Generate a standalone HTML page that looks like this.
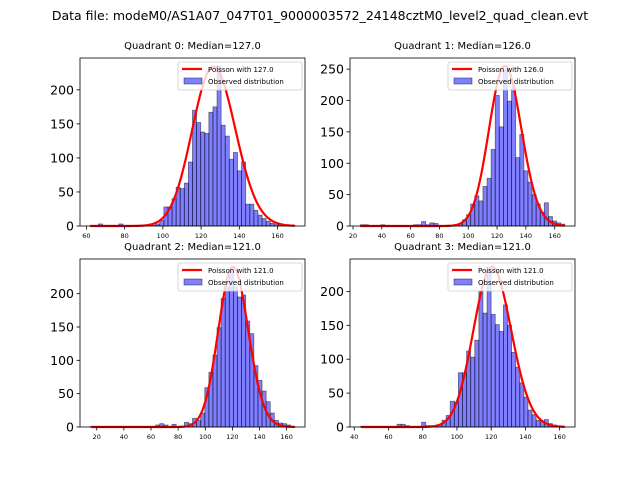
<!DOCTYPE html>
<html><head><meta charset="utf-8"><style>
body{margin:0;background:#fff}
svg{display:block;font-family:"DejaVu Sans","Liberation Sans",sans-serif}
</style></head><body>
<svg id="fig" width="640" height="480" viewBox="0 0 640 480" xmlns="http://www.w3.org/2000/svg">
<rect width="640" height="480" fill="#fff"/>
<text x="320" y="20" font-size="12.5" text-anchor="middle">Data file: modeM0/AS1A07_047T01_9000003572_24148cztM0_level2_quad_clean.evt</text>
</svg>
<script>
// ---- data ----
const titles = ["Quadrant 0: Median=127.0","Quadrant 1: Median=126.0","Quadrant 2: Median=121.0","Quadrant 3: Median=121.0"];
const lambdas = [127, 126, 121, 121];
const poissonPeaks = [234, 255, 240, 236];
const dataMins = [62, 25, 15.2, 43.5];
const dataMaxs = [169, 167, 166, 163];
const counts0 = [1,1,3,1,1,1,1,3,1,1,1,1,1,1,1,1,3,8,28,28,40,57,55,63,94,170,152,138,136,167,175,235,148,132,98,108,81,94,32,32,23,16,11,7,4,2,2,1,1,1];
const counts1 = [2,2,1,1,1,2,1,1,1,1,1,1,1,2,2,7,2,5,4,1,1,1,1,2,3,10,18,35,48,40,63,76,122,208,158,249,199,220,109,146,88,70,50,35,22,37,15,8,5,3];
const counts2 = [1,1,1,1,1,1,1,1,1,1,1,1,1,1,1,1,3,5,3,1,4,1,1,7,5,13,10,21,59,82,108,149,193,210,236,210,195,198,159,140,92,70,54,38,21,10,6,5,3,1];
const counts3 = [1,1,1,1,1,1,1,1,1,4,4,2,1,1,1,7,2,2,2,3,10,17,38,37,80,80,112,103,128,201,168,231,166,151,141,180,150,110,88,65,44,25,18,10,9,11,5,3,1,1];
const xTicks0 = [60,80,100,120,140,160];
const xTicks1 = [20,40,60,80,100,120,140,160];
const xTicks2 = [20,40,60,80,100,120,140,160];
const xTicks3 = [40,60,80,100,120,140,160];
const yTicks0 = [0,50,100,150,200];
const yTicks1 = [0,50,100,150,200,250];
const yTicks2 = [0,50,100,150,200];
const yTicks3 = [0,50,100,150,200];
const legendLabels = ["Poisson with 127.0","Poisson with 126.0","Poisson with 121.0","Poisson with 121.0"];

const allCounts=[counts0,counts1,counts2,counts3];
const allXT=[xTicks0,xTicks1,xTicks2,xTicks3];
const allYT=[yTicks0,yTicks1,yTicks2,yTicks3];
const boxes=[[80,58,305,226],[350,58,575,226],[80,259,305,427],[350,259,575,427]];
const NS="http://www.w3.org/2000/svg";
const svg=document.getElementById('fig');
function mk(tag,attrs,parent){const e=document.createElementNS(NS,tag);for(const k in attrs)e.setAttribute(k,attrs[k]);(parent||svg).appendChild(e);return e;}
function lgam(z){const c=[76.18009172947146,-86.50532032941677,24.01409824083091,-1.231739572450155,0.1208650973866179e-2,-0.5395239384953e-5];let x=z,y=z,t=x+5.5;t-=(x+0.5)*Math.log(t);let s=1.000000000190015;for(let j=0;j<6;j++)s+=c[j]/++y;return -t+Math.log(2.5066282746310005*s/x);}
function lpois(k,l){return k*Math.log(l)-l-lgam(k+1);}

for(let p=0;p<4;p++){
  const [L,T,R,B]=boxes[p];
  const cnt=allCounts[p],mn=dataMins[p],mx=dataMaxs[p],lam=lambdas[p],pk=poissonPeaks[p];
  const span=mx-mn,x0=mn-0.05*span,x1=mx+0.05*span;
  const ymax=1.05*Math.max(Math.max(...cnt),pk);
  const sx=v=>L+(v-x0)/(x1-x0)*(R-L);
  const sy=v=>B-v/ymax*(B-T);
  const g=mk('g',{});
  
  
  const t=mk('text',{x:(L+R)/2,y:T-9,'font-size':'10','text-anchor':'middle'},g);
  t.textContent=titles[p];
  
  
  const bw=span/cnt.length;
  for(let i=0;i<cnt.length;i++){
    const xa=sx(mn+i*bw),xb=sx(mn+(i+1)*bw);
    const r=mk('rect',{x:xa,y:sy(cnt[i]),width:xb-xa,height:B-sy(cnt[i]),fill:'rgba(0,0,255,0.5)',stroke:'rgba(0,0,0,0.5)','stroke-width':'0.8'},g);
    
    
  }
  let d='';const lp=lpois(lam,lam);
  for(let k=Math.ceil(mn);k<=Math.floor(mx);k++){const v=pk*Math.exp(lpois(k,lam)-lp);d+=(d?'L':'M')+sx(k).toFixed(2)+','+sy(v).toFixed(2);}
  const pl=mk('path',{d:d,fill:'none',stroke:'red','stroke-width':'2.2'},g);
  
  
  const ax=mk('rect',{x:L,y:T,width:R-L,height:B-T,fill:'none',stroke:'#000','stroke-width':'0.8'},g);
  
  
  for(const v of allXT[p]){const x=sx(v);mk('line',{x1:x,y1:B,x2:x,y2:B+3.5,stroke:'#000','stroke-width':'0.8'},g);
    const tl=mk('text',{x:x,y:B+12,'font-size':'6.5','text-anchor':'middle'},g);tl.textContent=v;
    
    }
  for(const v of allYT[p]){const y=sy(v);mk('line',{x1:L-3.5,y1:y,x2:L,y2:y,stroke:'#000','stroke-width':'0.8'},g);
    const tl=mk('text',{x:L-6,y:y+4.5,'font-size':'12.5','text-anchor':'end'},g);tl.textContent=v;
    
    }
  const lg=mk('g',{},g);
  
  
  mk('rect',{x:R-127,y:T+4,width:124,height:28,fill:'rgba(255,255,255,0.8)',stroke:'#ccc','stroke-width':'0.8',rx:2},lg);
  mk('line',{x1:R-123,y1:T+11,x2:R-103,y2:T+11,stroke:'red','stroke-width':'2.2'},lg);
  mk('rect',{x:R-121,y:T+20,width:18,height:6,fill:'rgba(0,0,255,0.5)',stroke:'rgba(0,0,0,0.5)','stroke-width':'0.8'},lg);
  const l1=mk('text',{x:R-97,y:T+14,'font-size':'7'},lg);l1.textContent=legendLabels[p];
  const l2=mk('text',{x:R-97,y:T+26,'font-size':'7'},lg);l2.textContent='Observed distribution';
}
</script>
</body></html>
